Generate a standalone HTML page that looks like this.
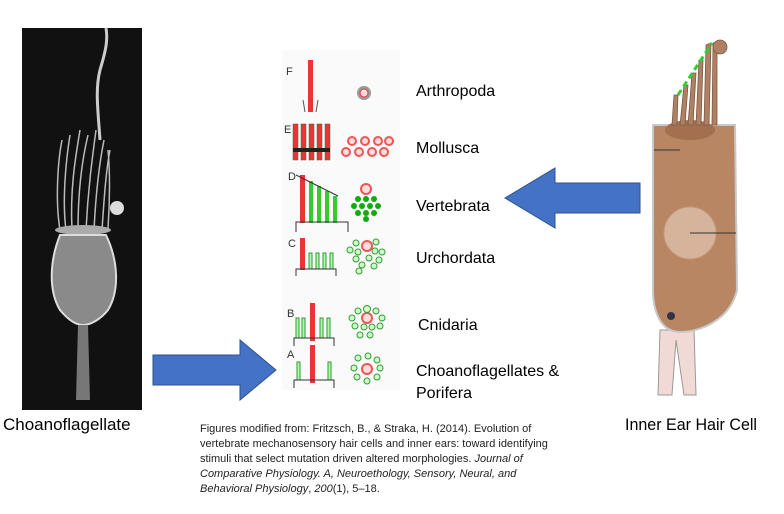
<!DOCTYPE html>
<html><head><meta charset="utf-8"><style>
body{margin:0;background:#fff;width:784px;height:509px;overflow:hidden;font-family:"Liberation Sans",sans-serif}
</style></head><body>
<svg width="784" height="509" viewBox="0 0 784 509" xmlns="http://www.w3.org/2000/svg">
<g>
<rect x="22" y="28" width="120" height="382" fill="#111"/>
<path d="M100,140 C98,110 95,90 100,70 C106,50 108,40 106,28" stroke="#ccc" stroke-width="3" fill="none"/>
<g stroke="#bbb" stroke-width="1.5" fill="none">
<path d="M60,230 C55,200 58,160 62,140"/><path d="M66,230 C62,200 66,160 70,135"/><path d="M72,230 C70,190 75,160 80,130"/>
<path d="M78,230 C78,190 82,160 88,135"/><path d="M86,230 C88,190 92,160 96,130"/><path d="M94,230 C96,190 100,160 104,140"/>
<path d="M102,230 C104,200 106,170 110,150"/><path d="M108,228 C110,200 110,170 108,150"/>
</g>
<ellipse cx="83" cy="230" rx="28" ry="5" fill="#aaa"/>
<path d="M60,235 C50,260 48,290 60,310 C70,322 78,325 83,325 C90,325 100,320 108,310 C120,290 118,260 106,235 Z" fill="#8a8a8a" stroke="#ddd" stroke-width="2"/>
<path d="M78,325 L76,400 L90,400 L88,325 Z" fill="#777"/>
<circle cx="117" cy="208" r="7" fill="#ddd"/>
</g>
<text x="3" y="430" font-size="17" fill="#000">Choanoflagellate</text>

<path d="M153,355 L240,355 L240,340 L276,370 L240,400 L240,385 L153,385 Z" fill="#4472C4" stroke="#2f528f" stroke-width="1"/>
<path d="M640,183 L555,183 L555,168 L505,198 L555,228 L555,213 L640,213 Z" fill="#4472C4" stroke="#2f528f" stroke-width="1"/>

<g>
<rect x="282" y="50" width="118" height="340" fill="#fafafa"/>
<g font-size="11" fill="#333">
<text x="286" y="75">F</text><text x="284" y="133">E</text><text x="288" y="180">D</text><text x="288" y="247">C</text><text x="287" y="317">B</text><text x="287" y="358">A</text>
</g>
<rect x="308" y="60" width="5" height="52" fill="#e33"/><path d="M303,100 L305,112 M318,100 L316,112" stroke="#555"/>
<circle cx="364" cy="93" r="7" fill="#999"/><circle cx="364" cy="93" r="4" fill="#fdd" stroke="#e33"/>
<g fill="#e33" stroke="#555" stroke-width="0.5"><rect x="293" y="124" width="5" height="36"/><rect x="301" y="124" width="5" height="36"/><rect x="309" y="124" width="5" height="36"/><rect x="317" y="124" width="5" height="36"/><rect x="325" y="124" width="5" height="36"/></g>
<rect x="293" y="148" width="37" height="4" fill="#222"/>
<g fill="#fdd" stroke="#e55" stroke-width="2"><circle cx="352" cy="141" r="4"/><circle cx="365" cy="141" r="4"/><circle cx="378" cy="141" r="4"/><circle cx="389" cy="141" r="4"/><circle cx="346" cy="152" r="4"/><circle cx="359" cy="152" r="4"/><circle cx="372" cy="152" r="4"/><circle cx="384" cy="152" r="4"/></g>
<rect x="300" y="175" width="5" height="48" fill="#e33"/>
<g fill="#3c3"><rect x="309" y="181" width="4" height="42"/><rect x="317" y="186" width="4" height="37"/><rect x="325" y="191" width="4" height="32"/><rect x="333" y="196" width="4" height="27"/></g>
<path d="M296,175 L338,196" stroke="#333"/><path d="M296,232 L296,222 L348,222 L348,232" stroke="#333" fill="none"/>
<circle cx="366" cy="189" r="5" fill="#fdd" stroke="#e55" stroke-width="2"/>
<g fill="#1a1"><circle cx="358" cy="199" r="3"/><circle cx="366" cy="199" r="3"/><circle cx="374" cy="199" r="3"/><circle cx="354" cy="206" r="3"/><circle cx="362" cy="206" r="3"/><circle cx="370" cy="206" r="3"/><circle cx="378" cy="206" r="3"/><circle cx="358" cy="213" r="3"/><circle cx="366" cy="213" r="3"/><circle cx="374" cy="213" r="3"/><circle cx="366" cy="219" r="3"/></g>
<rect x="300" y="238" width="5" height="32" fill="#e33"/>
<g fill="#afa" stroke="#393"><rect x="309" y="253" width="3" height="16"/><rect x="316" y="253" width="3" height="16"/><rect x="323" y="253" width="3" height="16"/><rect x="330" y="253" width="3" height="16"/></g>
<path d="M296,276 L296,269 L336,269 L336,276" stroke="#333" fill="none"/>
<circle cx="367" cy="246" r="5" fill="#fdd" stroke="#e55" stroke-width="2"/>
<g fill="#cfc" stroke="#393"><circle cx="356" cy="243" r="3"/><circle cx="376" cy="242" r="3"/><circle cx="350" cy="250" r="3"/><circle cx="358" cy="252" r="3"/><circle cx="375" cy="251" r="3"/><circle cx="382" cy="252" r="3"/><circle cx="356" cy="259" r="3"/><circle cx="369" cy="258" r="3"/><circle cx="379" cy="260" r="3"/><circle cx="362" cy="265" r="3"/><circle cx="374" cy="266" r="3"/><circle cx="359" cy="271" r="3"/></g>
<rect x="310" y="303" width="5" height="38" fill="#e33"/>
<g fill="#afa" stroke="#393"><rect x="296" y="318" width="3" height="20"/><rect x="302" y="318" width="3" height="20"/><rect x="320" y="318" width="3" height="20"/><rect x="327" y="318" width="3" height="20"/></g>
<path d="M294,346 L294,338 L334,338 L334,346" stroke="#333" fill="none"/>
<circle cx="367" cy="318" r="5" fill="#fdd" stroke="#e55" stroke-width="2"/>
<g fill="#cfc" stroke="#393"><circle cx="358" cy="311" r="3"/><circle cx="367" cy="309" r="3.5"/><circle cx="376" cy="311" r="3"/><circle cx="352" cy="318" r="3"/><circle cx="382" cy="318" r="3"/><circle cx="355" cy="326" r="3"/><circle cx="364" cy="327" r="3"/><circle cx="372" cy="327" r="3"/><circle cx="380" cy="326" r="3"/><circle cx="360" cy="335" r="3"/><circle cx="370" cy="335" r="3"/></g>
<rect x="310" y="345" width="5" height="38" fill="#e33"/>
<g fill="#afa" stroke="#393"><rect x="297" y="362" width="3" height="18"/><rect x="328" y="362" width="3" height="18"/></g>
<path d="M294,388 L294,380 L334,380 L334,388" stroke="#333" fill="none"/>
<circle cx="367" cy="369" r="5" fill="#fdd" stroke="#e55" stroke-width="2"/>
<g fill="#cfc" stroke="#393"><circle cx="358" cy="358" r="3"/><circle cx="368" cy="356" r="3"/><circle cx="377" cy="360" r="3"/><circle cx="354" cy="368" r="3"/><circle cx="380" cy="368" r="3"/><circle cx="357" cy="377" r="3"/><circle cx="367" cy="381" r="3"/><circle cx="377" cy="377" r="3"/></g>
</g>

<g font-size="16" fill="#000">
<text x="416" y="96">Arthropoda</text>
<text x="416" y="153">Mollusca</text>
<text x="416" y="211">Vertebrata</text>
<text x="416" y="263">Urchordata</text>
<text x="418" y="330">Cnidaria</text>
<text x="416" y="376">Choanoflagellates &amp;</text>
<text x="416" y="398">Porifera</text>
</g>

<g>
<path d="M660,330 L658,395 L672,395 L676,340 L684,395 L696,395 L694,330 Z" fill="#f1dad6" stroke="#999"/>
<path d="M653,125 L735,125 L737,290 C730,320 700,332 680,332 C660,332 653,310 653,290 Z" fill="#b98663" stroke="#c8c8c8" stroke-width="2"/>
<ellipse cx="690" cy="130" rx="25" ry="10" fill="#a36f4f"/>
<circle cx="690" cy="233" r="26" fill="#d6b49c" stroke="#c49a7c"/>
<line x1="690" y1="233" x2="736" y2="233" stroke="#333"/>
<line x1="654" y1="150" x2="680" y2="150" stroke="#333"/>
<circle cx="671" cy="316" r="4" fill="#334"/>
<g fill="#b08062" stroke="#7a5a48" stroke-width="0.8">
<path d="M672,125 L674,95 L678,95 L677,125 Z"/><path d="M680,125 L684,85 L688,85 L685,125 Z"/><path d="M688,125 L692,73 L696,73 L693,125 Z"/><path d="M696,125 L699,60 L703,60 L701,125 Z"/><path d="M704,125 L706,45 L711,43 L709,125 Z"/><path d="M712,125 L713,43 L717,43 L717,125 Z"/>
<circle cx="720" cy="47" r="7"/>
</g>
<path d="M678,95 L712,43" stroke="#3c3" stroke-width="3" stroke-dasharray="6,4"/>
</g>
<text x="625" y="430" font-size="17" textLength="132" lengthAdjust="spacingAndGlyphs" fill="#000">Inner Ear Hair Cell</text>

<g font-size="11" fill="#222">
<text x="200" y="432">Figures modified from: Fritzsch, B., &amp; Straka, H. (2014). Evolution of</text>
<text x="200" y="447">vertebrate mechanosensory hair cells and inner ears: toward identifying</text>
<text x="200" y="462">stimuli that select mutation driven altered morphologies. <tspan font-style="italic">Journal of</tspan></text>
<text x="200" y="477" font-style="italic">Comparative Physiology. A, Neuroethology, Sensory, Neural, and</text>
<text x="200" y="492"><tspan font-style="italic">Behavioral Physiology</tspan>, <tspan font-style="italic">200</tspan>(1), 5–18.</text>
</g>
</svg>
</body></html>
